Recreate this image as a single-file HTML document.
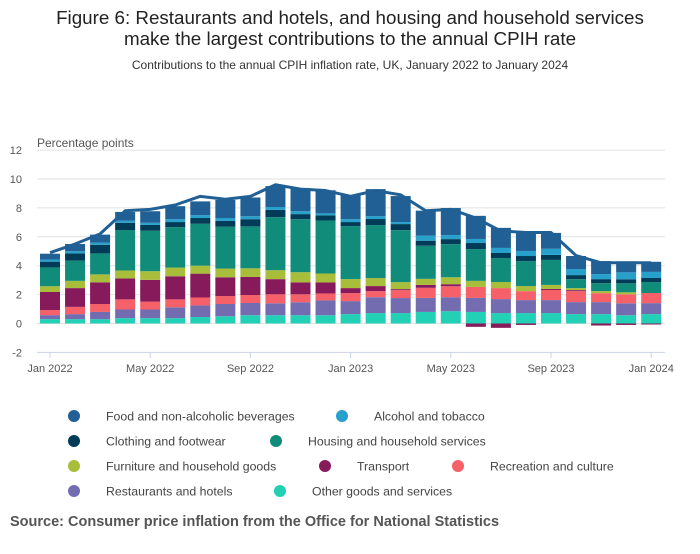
<!DOCTYPE html>
<html><head><meta charset="utf-8"><style>
body{margin:0;background:#fff;font-family:"Liberation Sans",sans-serif;}
svg text{font-family:"Liberation Sans",sans-serif;}
</style></head><body>
<svg id="chart" width="700" height="549" xmlns="http://www.w3.org/2000/svg">
<text x="350" y="24" text-anchor="middle" font-size="18.8" fill="#222">Figure 6: Restaurants and hotels, and housing and household services</text>
<text x="350" y="45" text-anchor="middle" font-size="18.8" fill="#222">make the largest contributions to the annual CPIH rate</text>
<text x="350" y="69" text-anchor="middle" font-size="12" fill="#333">Contributions to the annual CPIH inflation rate, UK, January 2022 to January 2024</text>
<text x="37" y="147" font-size="12" fill="#555">Percentage points</text>
<g id="grid"></g><g id="bars"></g><g id="line"></g><g id="axis"></g><g id="legend"></g>
<text x="10" y="526" font-size="14.5" font-weight="bold" fill="#555">Source: Consumer price inflation from the Office for National Statistics</text>
</svg>
<script>
const months=["Jan 2022","Feb 2022","Mar 2022","Apr 2022","May 2022","Jun 2022","Jul 2022","Aug 2022","Sep 2022","Oct 2022","Nov 2022","Dec 2022","Jan 2023","Feb 2023","Mar 2023","Apr 2023","May 2023","Jun 2023","Jul 2023","Aug 2023","Sep 2023","Oct 2023","Nov 2023","Dec 2023","Jan 2024"];
const other=[0.3,0.3,0.3,0.37,0.37,0.37,0.45,0.5,0.57,0.57,0.57,0.57,0.65,0.72,0.72,0.8,0.85,0.8,0.72,0.72,0.72,0.65,0.65,0.57,0.65];
const restaurants=[0.28,0.35,0.5,0.6,0.6,0.75,0.8,0.85,0.85,0.83,0.9,1.03,0.9,1.1,1.04,0.97,0.97,0.97,0.97,0.9,0.9,0.83,0.83,0.83,0.76];
const recreation=[0.35,0.5,0.55,0.7,0.55,0.55,0.55,0.55,0.55,0.62,0.55,0.48,0.55,0.42,0.55,0.7,0.76,0.76,0.76,0.62,0.7,0.76,0.62,0.62,0.7];
const transport=[1.25,1.3,1.5,1.45,1.5,1.6,1.65,1.3,1.25,1.05,0.83,0.76,0.35,0.35,0.07,0.2,0.14,-0.23,-0.3,-0.1,0.07,0.07,-0.14,-0.1,-0.07];
const furniture=[0.4,0.5,0.55,0.55,0.6,0.6,0.55,0.6,0.6,0.62,0.7,0.62,0.62,0.55,0.48,0.42,0.48,0.42,0.42,0.35,0.28,0.14,0.14,0.14,0];
const housing=[1.3,1.4,1.45,2.8,2.8,2.8,2.9,2.9,2.9,3.67,3.67,3.67,3.67,3.67,3.6,2.29,2.29,2.2,1.66,1.73,1.73,0.62,0.55,0.62,0.76];
const clothing=[0.4,0.5,0.6,0.5,0.4,0.35,0.4,0.4,0.5,0.5,0.35,0.35,0.28,0.42,0.42,0.35,0.35,0.42,0.35,0.35,0.35,0.28,0.28,0.28,0.28];
const alcohol=[0.15,0.15,0.15,0.15,0.15,0.2,0.2,0.2,0.2,0.2,0.2,0.14,0.2,0.2,0.14,0.35,0.28,0.28,0.35,0.35,0.42,0.42,0.35,0.48,0.42];
const food=[0.4,0.5,0.55,0.6,0.8,0.9,0.95,1.25,1.3,1.45,1.6,1.6,1.66,1.87,1.8,1.73,1.87,1.6,1.39,1.32,1.1,0.9,0.9,0.76,0.7];
const cpih=[4.9,5.5,6.2,7.8,7.9,8.2,8.8,8.6,8.8,9.6,9.3,9.2,8.8,9.2,8.9,7.8,7.9,7.3,6.4,6.3,6.3,4.7,4.2,4.2,4.2];
const yTicks=[-2,0,2,4,6,8,10,12];
const xTickLabels=["Jan 2022","May 2022","Sep 2022","Jan 2023","May 2023","Sep 2023","Jan 2024"];

const NS="http://www.w3.org/2000/svg";
const series=[["Other goods and services",other,"#22d0b6"],["Restaurants and hotels",restaurants,"#746cb1"],["Recreation and culture",recreation,"#f66068"],["Transport",transport,"#871a5b"],["Furniture and household goods",furniture,"#a8bd3a"],["Housing and household services",housing,"#118c7b"],["Clothing and footwear",clothing,"#003c57"],["Alcohol and tobacco",alcohol,"#27a0cc"],["Food and non-alcoholic beverages",food,"#206095"]];
const y=v=>323.5-v*14.45;
const x=i=>50+i*25.05;
const bw=20;
function mk(t,a,p){const e=document.createElementNS(NS,t);for(const k in a)e.setAttribute(k,a[k]);p.appendChild(e);return e;}
const grid=document.getElementById('grid');
yTicks.forEach(t=>{
  const l=mk('line',{x1:37,x2:665,y1:y(t),y2:y(t),stroke:t===-2?'#c8d3e0':'#e2e2e2','stroke-width':1},grid);
  
  
  const tx=mk('text',{x:22,y:y(t)+4,'text-anchor':'end','font-size':11,fill:'#555'},grid);
  tx.textContent=t;
  
  
});
const bars=document.getElementById('bars');
months.forEach((m,i)=>{
  let pos=0,neg=0;
  series.forEach(([name,vals,col])=>{
    const v=vals[i];if(!v)return;
    let y0,y1;
    if(v>0){y0=pos;y1=pos+v;pos=y1;}else{y0=neg+v;y1=neg;neg=y0;}
    const r=mk('rect',{x:x(i)-bw/2,y:y(y1),width:bw,height:y(y0)-y(y1),fill:col},bars);
    
    
  });
});
const lg=document.getElementById('line');
const p=mk('path',{d:cpih.map((v,i)=>(i?'L':'M')+x(i)+','+y(v)).join(''),fill:'none',stroke:'#206095','stroke-width':3,'stroke-linejoin':'round'},lg);


const ax=document.getElementById('axis');
xTickLabels.forEach(lab=>{
  const i=months.indexOf(lab);
  const t=mk('line',{x1:x(i),x2:x(i),y1:352,y2:358,stroke:'#c8d3e0'},ax);
  
  
  const tx=mk('text',{x:x(i),y:372,'text-anchor':'middle','font-size':11,fill:'#555'},ax);
  tx.textContent=lab;
  
  
});
const leg=[["Food and non-alcoholic beverages","#206095",74,416],["Alcohol and tobacco","#27a0cc",342,416],["Clothing and footwear","#003c57",74,441],["Housing and household services","#118c7b",276,441],["Furniture and household goods","#a8bd3a",74,466],["Transport","#871a5b",325,466],["Recreation and culture","#f66068",458,466],["Restaurants and hotels","#746cb1",74,491],["Other goods and services","#22d0b6",280,491]];
const lgG=document.getElementById('legend');
leg.forEach(([n,c,lx,ly])=>{
  const g=mk('g',{},lgG);
  
  
  mk('circle',{cx:lx,cy:ly,r:6,fill:c},g);
  const t=mk('text',{x:lx+32,y:ly+4.5,'font-size':12.3,fill:'#444'},g);
  t.textContent=n;
});
</script>
</body></html>
